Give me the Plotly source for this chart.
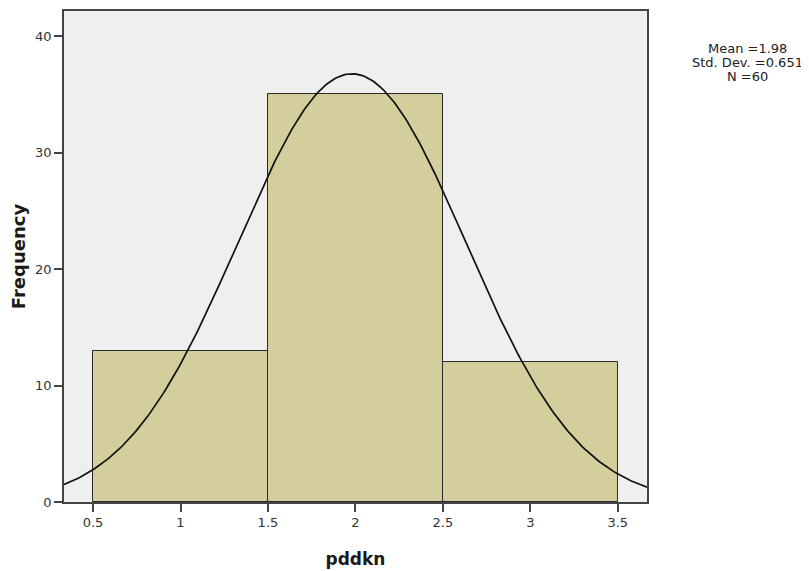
import numpy as np
import plotly.graph_objects as go

# Data
bin_centers = [1.0, 2.0, 3.0]
frequencies = [13, 35, 12]
bin_width = 1.0
mean_val = 1.98
std_val = 0.651
n_val = 60
x_ticks = [0.5, 1, 1.5, 2, 2.5, 3, 3.5]
x_tick_labels = ["0.5", "1", "1.5", "2", "2.5", "3", "3.5"]
y_ticks = [0, 10, 20, 30, 40]
stat_lines = ["Mean =1.98", "Std. Dev. =0.651", "N =60"]

x_range = [0.334, 3.667]
y_range = [0, 42.16]

# Normal curve fitted from the reported statistics (as SPSS draws it)
xs = np.linspace(x_range[0], x_range[1], 300)
ys = n_val * bin_width / (std_val * np.sqrt(2 * np.pi)) * np.exp(-0.5 * ((xs - mean_val) / std_val) ** 2)

FONT = "DejaVu Sans, Arial, sans-serif"

fig = go.Figure()
fig.add_trace(go.Bar(
    x=bin_centers, y=frequencies, width=bin_width,
    marker=dict(color="#D3CE9B", line=dict(color="#2a2a2a", width=1)),
    hoverinfo="skip", showlegend=False,
))
fig.add_trace(go.Scatter(
    x=xs, y=ys, mode="lines", line=dict(color="#111111", width=1.7),
    hoverinfo="skip", showlegend=False,
))

stat_y = [0.923, 0.895, 0.866]
annotations = [
    dict(text=t, xref="paper", yref="paper", x=1.173, y=yy,
         xanchor="center", yanchor="middle", showarrow=False,
         font=dict(size=13, color="#222222", family=FONT))
    for t, yy in zip(stat_lines, stat_y)
]

fig.update_layout(
    width=801, height=563,
    margin=dict(l=56, r=162, t=1, b=69),
    paper_bgcolor="white", plot_bgcolor="#EFEFEF",
    font=dict(family=FONT, color="#333333", size=13),
    bargap=0,
    annotations=annotations,
)
fig.update_xaxes(
    range=x_range, tickvals=x_ticks, ticktext=x_tick_labels,
    showgrid=False, zeroline=False, showline=True, linecolor="#444444", linewidth=1.5, mirror=True,
    ticks="outside", ticklen=8, tickcolor="#444444", tickwidth=1.5,
    title=dict(text="<b>pddkn</b>", font=dict(size=17, color="#1a1a1a", family=FONT), standoff=24),
)
fig.update_yaxes(
    range=y_range, tickvals=y_ticks,
    showgrid=False, zeroline=False, showline=True, linecolor="#444444", linewidth=1.5, mirror=True,
    ticks="outside", ticklen=8, tickcolor="#444444", tickwidth=1.5,
    title=dict(text="<b>Frequency</b>", font=dict(size=18, color="#1a1a1a", family=FONT), standoff=11),
)

fig.write_html("out.html")
